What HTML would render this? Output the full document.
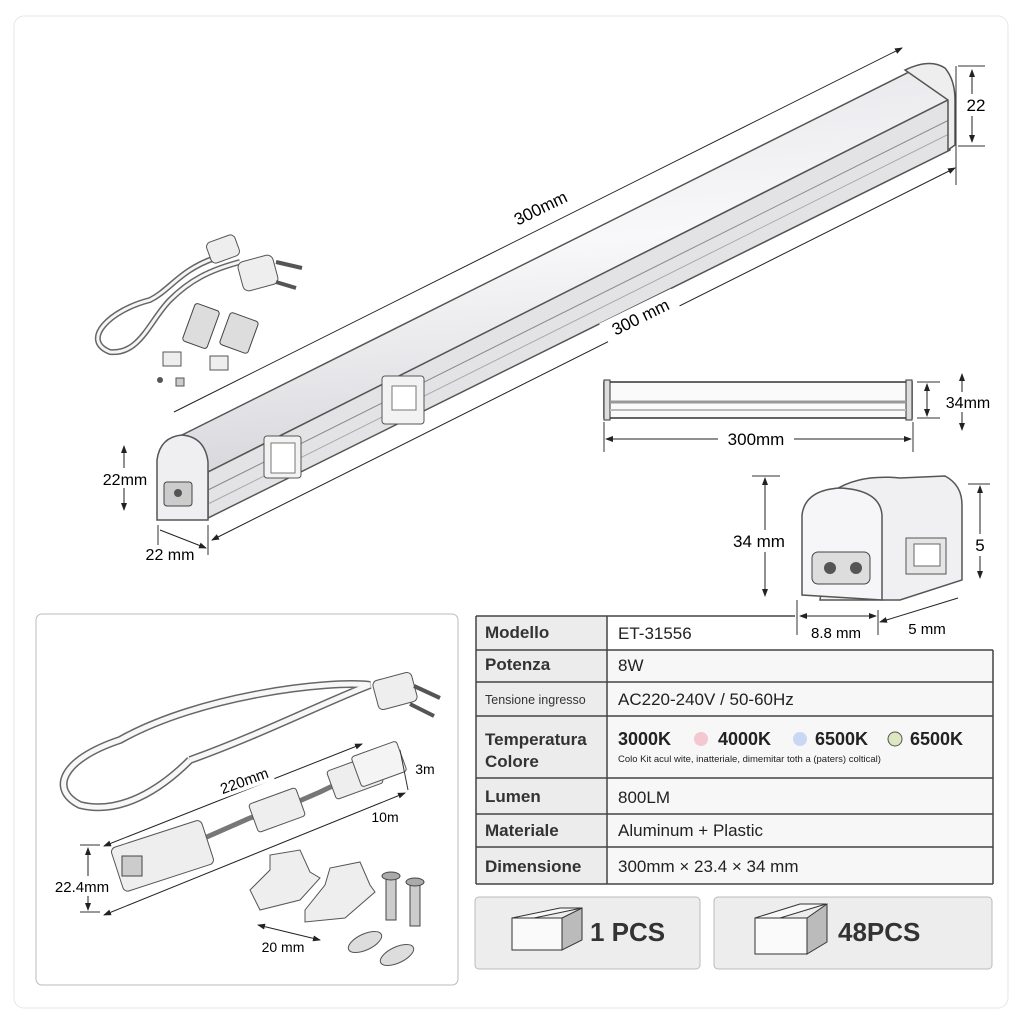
<!DOCTYPE html>
<html><head><meta charset="utf-8"><style>
body{margin:0;background:#fff;}
svg{display:block;font-family:"Liberation Sans",sans-serif;}
</style></head><body>
<svg width="1024" height="1024" viewBox="0 0 1024 1024" xmlns="http://www.w3.org/2000/svg">
<defs>
<linearGradient id="tube" x1="0" y1="0" x2="0.15" y2="1"><stop offset="0" stop-color="#e4e4e8"/><stop offset="0.5" stop-color="#f8f8fa"/><stop offset="1" stop-color="#d8d8dc"/></linearGradient>
<marker id="ar" markerWidth="8" markerHeight="8" refX="7" refY="4" orient="auto"><path d="M0,1 L8,4 L0,7z" fill="#222"/></marker>
<marker id="al" markerWidth="8" markerHeight="8" refX="1" refY="4" orient="auto"><path d="M8,1 L0,4 L8,7z" fill="#222"/></marker>
</defs>
<rect x="14" y="16" width="994" height="992" rx="10" fill="#fff" stroke="#e6e6e6"/>
<!-- main bar -->
<polygon points="178,437 925,64 948,100 208,472" fill="url(#tube)" stroke="#555" stroke-width="1.5"/>
<polygon points="208,472 948,100 950,150 208,518" fill="#e3e3e6" stroke="#555" stroke-width="1.5"/>
<line x1="208" y1="490" x2="949" y2="120" stroke="#888"/>
<line x1="208" y1="504" x2="949" y2="134" stroke="#aaa"/>
<path d="M905,70 Q930,58 945,68 Q955,80 955,100 L955,145 L948,150 L948,100 Z" fill="#eee" stroke="#555" stroke-width="1.5"/>
<path d="M157,520 L157,460 Q160,437 182,435 Q205,437 208,462 L208,520 Z" fill="#efeff1" stroke="#555" stroke-width="1.5"/>
<rect x="164" y="482" width="28" height="24" rx="3" fill="#ccc" stroke="#444"/>
<circle cx="178" cy="493" r="4" fill="#555"/>
<rect x="264" y="436" width="37" height="42" rx="3" fill="#f2f2f2" stroke="#555"/>
<rect x="271" y="443" width="24" height="30" fill="#fff" stroke="#777"/>
<rect x="382" y="376" width="42" height="48" rx="3" fill="#f2f2f2" stroke="#555"/>
<rect x="392" y="386" width="24" height="24" fill="#fff" stroke="#777"/>
<!-- dimensions bar -->
<line x1="174" y1="412" x2="902" y2="48" stroke="#222" marker-end="url(#ar)"/>
<rect x="500" y="196" width="80" height="22" fill="#fff" transform="rotate(-26 540 207)"/>
<text x="540" y="214" font-size="17" text-anchor="middle" transform="rotate(-26 540 207)">300mm</text>
<line x1="212" y1="540" x2="955" y2="168" stroke="#222" marker-start="url(#al)" marker-end="url(#ar)"/>
<rect x="600" y="305" width="80" height="22" fill="#fff" transform="rotate(-26 640 316)"/>
<text x="640" y="323" font-size="17" text-anchor="middle" transform="rotate(-26 640 316)">300 mm</text>
<line x1="956" y1="66" x2="956" y2="185" stroke="#333"/>
<line x1="958" y1="66" x2="985" y2="66" stroke="#333"/><line x1="958" y1="146" x2="985" y2="146" stroke="#333"/>
<line x1="972" y1="70" x2="972" y2="142" stroke="#222" marker-start="url(#al)" marker-end="url(#ar)"/>
<rect x="962" y="94" width="28" height="22" fill="#fff"/><text x="976" y="111" font-size="17" text-anchor="middle">22</text>
<line x1="124" y1="446" x2="124" y2="510" stroke="#222" marker-start="url(#al)" marker-end="url(#ar)"/>
<rect x="98" y="468" width="56" height="20" fill="#fff"/><text x="125" y="485" font-size="16" text-anchor="middle">22mm</text>
<line x1="158" y1="525" x2="158" y2="545" stroke="#333"/><line x1="208" y1="525" x2="208" y2="555" stroke="#333"/>
<line x1="160" y1="530" x2="206" y2="548" stroke="#222" marker-end="url(#ar)"/>
<text x="170" y="560" font-size="16" text-anchor="middle">22 mm</text>
<!-- cable accessories top left -->
<path d="M215,258 C180,270 170,290 150,300 C110,310 80,340 110,352 C140,355 150,320 170,300 C190,280 210,270 240,262" fill="none" stroke="#666" stroke-width="6"/>
<path d="M215,258 C180,270 170,290 150,300 C110,310 80,340 110,352 C140,355 150,320 170,300 C190,280 210,270 240,262" fill="none" stroke="#f5f5f5" stroke-width="3"/>
<rect x="208" y="238" width="30" height="22" rx="5" fill="#eee" stroke="#555" transform="rotate(-20 223 249)"/>
<rect x="240" y="258" width="36" height="30" rx="6" fill="#eee" stroke="#555" transform="rotate(-15 258 273)"/>
<line x1="276" y1="262" x2="302" y2="268" stroke="#555" stroke-width="4"/><line x1="276" y1="282" x2="296" y2="288" stroke="#555" stroke-width="4"/>
<rect x="188" y="306" width="26" height="40" rx="3" fill="#ddd" stroke="#444" transform="rotate(20 201 326)"/>
<rect x="224" y="316" width="30" height="34" rx="3" fill="#ddd" stroke="#444" transform="rotate(20 239 333)"/>
<rect x="163" y="352" width="18" height="14" fill="#eee" stroke="#555"/><rect x="210" y="356" width="18" height="14" fill="#eee" stroke="#555"/>
<circle cx="160" cy="380" r="3" fill="#555"/><rect x="176" y="378" width="8" height="8" fill="#ccc" stroke="#555"/>
<!-- side view -->
<rect x="604" y="382" width="308" height="36" fill="#fafafa" stroke="#333" stroke-width="1.5"/>
<rect x="604" y="380" width="6" height="40" fill="#ddd" stroke="#333"/><rect x="906" y="380" width="6" height="40" fill="#ddd" stroke="#333"/>
<line x1="610" y1="402" x2="906" y2="402" stroke="#999" stroke-width="3"/><line x1="610" y1="410" x2="906" y2="410" stroke="#bbb" stroke-width="2"/>
<line x1="604" y1="422" x2="604" y2="452" stroke="#333"/><line x1="913" y1="422" x2="913" y2="452" stroke="#333"/>
<line x1="606" y1="439" x2="911" y2="439" stroke="#222" marker-start="url(#al)" marker-end="url(#ar)"/>
<rect x="718" y="428" width="76" height="22" fill="#fff"/><text x="756" y="445" font-size="17" text-anchor="middle">300mm</text>
<line x1="917" y1="382" x2="940" y2="382" stroke="#333"/><line x1="917" y1="418" x2="940" y2="418" stroke="#333"/>
<line x1="927" y1="384" x2="927" y2="416" stroke="#222" marker-start="url(#al)" marker-end="url(#ar)"/>
<line x1="962" y1="374" x2="962" y2="430" stroke="#222" marker-start="url(#al)" marker-end="url(#ar)"/>
<rect x="944" y="392" width="52" height="20" fill="#fff"/><text x="968" y="408" font-size="16" text-anchor="middle">34mm</text>
<!-- end cap -->
<path d="M835,490 Q860,474 900,478 L945,476 Q962,485 962,505 L962,580 L900,600 L820,600 Z" fill="#f0f0f2" stroke="#555" stroke-width="1.5"/>
<path d="M802,595 L802,515 Q805,490 840,488 Q880,490 882,515 L882,600 Z" fill="#f6f6f8" stroke="#555" stroke-width="1.5"/>
<rect x="812" y="552" width="58" height="32" rx="6" fill="#ddd" stroke="#444"/>
<circle cx="830" cy="568" r="6" fill="#555"/><circle cx="856" cy="568" r="6" fill="#555"/>
<rect x="906" y="538" width="40" height="36" fill="#e5e5e5" stroke="#555"/><rect x="914" y="544" width="26" height="22" fill="#fff" stroke="#666"/>
<line x1="752" y1="476" x2="780" y2="476" stroke="#333"/><line x1="765" y1="478" x2="765" y2="596" stroke="#222" marker-start="url(#al)" marker-end="url(#ar)"/>
<rect x="726" y="530" width="66" height="22" fill="#fff"/><text x="759" y="547" font-size="17" text-anchor="middle">34 mm</text>
<line x1="968" y1="484" x2="990" y2="484" stroke="#333"/><line x1="980" y1="486" x2="980" y2="578" stroke="#222" marker-start="url(#al)" marker-end="url(#ar)"/>
<rect x="970" y="534" width="22" height="22" fill="#fff"/><text x="980" y="551" font-size="17" text-anchor="middle">5</text>
<!-- left box -->
<rect x="36" y="614" width="422" height="371" rx="6" fill="#fff" stroke="#bbb"/>
<path d="M190,760 C260,735 330,700 370,685 C330,680 200,695 120,740 C60,760 50,790 80,805 C120,815 160,790 190,760" fill="none" stroke="#666" stroke-width="8"/>
<path d="M190,760 C260,735 330,700 370,685 C330,680 200,695 120,740 C60,760 50,790 80,805 C120,815 160,790 190,760" fill="none" stroke="#f7f7f7" stroke-width="5"/>
<rect x="375" y="676" width="40" height="30" rx="5" fill="#eee" stroke="#555" transform="rotate(-15 395 691)"/>
<line x1="414" y1="686" x2="440" y2="698" stroke="#555" stroke-width="4"/><line x1="410" y1="704" x2="434" y2="716" stroke="#555" stroke-width="4"/>
<path d="M200,840 L250,818 L290,805 L320,792 L345,780" fill="none" stroke="#777" stroke-width="5"/>
<rect x="115" y="833" width="95" height="46" rx="5" fill="#eee" stroke="#555" transform="rotate(-18 162 856)"/>
<rect x="122" y="856" width="20" height="20" fill="#ccc" stroke="#444"/>
<rect x="252" y="795" width="50" height="30" rx="3" fill="#eee" stroke="#555" transform="rotate(-20 277 810)"/>
<rect x="330" y="762" width="50" height="30" rx="3" fill="#eee" stroke="#555" transform="rotate(-20 355 777)"/>
<rect x="355" y="748" width="48" height="32" rx="3" fill="#f4f4f4" stroke="#555" transform="rotate(-20 379 764)"/>
<line x1="104" y1="846" x2="362" y2="744" stroke="#222" marker-start="url(#al)" marker-end="url(#ar)"/>
<rect x="215" y="770" width="58" height="20" fill="#fff" transform="rotate(-20 244 780)"/>
<text x="244" y="786" font-size="15" text-anchor="middle" transform="rotate(-20 244 780)">220mm</text>
<line x1="104" y1="915" x2="405" y2="793" stroke="#222" marker-start="url(#al)" marker-end="url(#ar)"/>
<text x="385" y="822" font-size="14" text-anchor="middle">10m</text>
<text x="425" y="774" font-size="14" text-anchor="middle">3m</text>
<line x1="400" y1="750" x2="408" y2="790" stroke="#333"/>
<line x1="80" y1="845" x2="100" y2="845" stroke="#333"/><line x1="80" y1="912" x2="100" y2="912" stroke="#333"/>
<line x1="88" y1="848" x2="88" y2="910" stroke="#222" marker-start="url(#al)" marker-end="url(#ar)"/>
<rect x="48" y="876" width="66" height="20" fill="#fff"/><text x="82" y="892" font-size="15" text-anchor="middle">22.4mm</text>
<path d="M250,890 L270,870 L270,855 L300,850 L310,872 L320,878 L300,900 L260,910 Z" fill="#eee" stroke="#555"/>
<path d="M305,910 L325,885 L330,868 L360,862 L370,885 L375,892 L345,918 L305,922 Z" fill="#eee" stroke="#555"/>
<rect x="386" y="876" width="10" height="44" fill="#ccc" stroke="#444"/><rect x="410" y="882" width="10" height="44" fill="#ccc" stroke="#444"/>
<ellipse cx="391" cy="876" rx="9" ry="4" fill="#aaa" stroke="#444"/><ellipse cx="415" cy="882" rx="9" ry="4" fill="#aaa" stroke="#444"/>
<ellipse cx="365" cy="942" rx="18" ry="8" fill="#ddd" stroke="#555" transform="rotate(-25 365 942)"/>
<ellipse cx="397" cy="955" rx="18" ry="8" fill="#ddd" stroke="#555" transform="rotate(-25 397 955)"/>
<line x1="258" y1="925" x2="320" y2="940" stroke="#222" marker-start="url(#al)" marker-end="url(#ar)"/>
<text x="283" y="952" font-size="14" text-anchor="middle">20 mm</text>
<!-- table -->
<g font-size="17" fill="#222">
<rect x="476" y="616" width="517" height="268" fill="#fff"/>
<rect x="476" y="616" width="131" height="268" fill="#ececec"/>
<rect x="607" y="650" width="386" height="234" fill="#f7f7f7"/>
<g stroke="#444" stroke-width="1.5" fill="none">
<line x1="476" y1="616" x2="795" y2="616"/>
<line x1="476" y1="650" x2="993" y2="650"/><line x1="476" y1="682" x2="993" y2="682"/>
<line x1="476" y1="716" x2="993" y2="716"/><line x1="476" y1="778" x2="993" y2="778"/>
<line x1="476" y1="814" x2="993" y2="814"/><line x1="476" y1="847" x2="993" y2="847"/>
<line x1="476" y1="884" x2="993" y2="884"/>
<line x1="476" y1="616" x2="476" y2="884"/><line x1="607" y1="616" x2="607" y2="884"/><line x1="993" y1="650" x2="993" y2="884"/>
</g>
<g font-weight="bold" fill="#333">
<text x="485" y="638">Modello</text><text x="485" y="670">Potenza</text>
<text x="485" y="704" font-size="12.5" font-weight="normal">Tensione ingresso</text>
<text x="485" y="745">Temperatura</text><text x="485" y="767">Colore</text>
<text x="485" y="802">Lumen</text><text x="485" y="836">Materiale</text><text x="485" y="872">Dimensione</text>
</g>
<text x="618" y="639">ET-31556</text><text x="618" y="671">8W</text>
<text x="618" y="705">AC220-240V / 50-60Hz</text>
<text x="618" y="745" font-weight="bold" font-size="18">3000K</text>
<text x="718" y="745" font-weight="bold" font-size="18">4000K</text>
<text x="815" y="745" font-weight="bold" font-size="18">6500K</text>
<text x="910" y="745" font-weight="bold" font-size="18">6500K</text>
<circle cx="701" cy="739" r="7" fill="#f4c8d0"/><circle cx="800" cy="739" r="7" fill="#c8d8f4"/><circle cx="895" cy="739" r="7" fill="#dde8c0" stroke="#555"/>
<text x="618" y="762" font-size="9.5">Colo Kit acul wite, inatteriale, dimemitar toth a (paters) coltical)</text>
<text x="618" y="803">800LM</text><text x="618" y="836">Aluminum + Plastic</text>
<text x="618" y="872">300mm × 23.4 × 34 mm</text>
</g>
<!-- end cap bottom dims (drawn over table top row) -->
<line x1="797" y1="600" x2="797" y2="635" stroke="#333"/><line x1="878" y1="610" x2="878" y2="635" stroke="#333"/>
<line x1="800" y1="616" x2="876" y2="616" stroke="#222" marker-start="url(#al)" marker-end="url(#ar)"/>
<line x1="880" y1="622" x2="958" y2="598" stroke="#222" marker-start="url(#al)"/>
<text x="836" y="638" font-size="15" text-anchor="middle">8.8 mm</text>
<text x="927" y="634" font-size="15" text-anchor="middle">5 mm</text>
<rect x="475" y="897" width="225" height="72" rx="4" fill="#ededed" stroke="#bbb"/>
<rect x="714" y="897" width="278" height="72" rx="4" fill="#ededed" stroke="#bbb"/>
<polygon points="512,918 560,908 582,908 534,918" fill="#f8f8f8" stroke="#333"/>
<rect x="512" y="918" width="50" height="32" fill="#fafafa" stroke="#333"/>
<polygon points="562,918 582,908 582,940 562,950" fill="#bbb" stroke="#333"/>
<text x="590" y="941" font-size="26" font-weight="bold" fill="#333">1 PCS</text>
<polygon points="755,918 800,904 826,904 780,918" fill="#f8f8f8" stroke="#333"/>
<rect x="755" y="918" width="52" height="36" fill="#fafafa" stroke="#333"/>
<polygon points="807,918 827,904 827,942 807,954" fill="#bbb" stroke="#333"/>
<text x="838" y="941" font-size="26" font-weight="bold" fill="#333">48PCS</text>
</svg>
</body></html>
